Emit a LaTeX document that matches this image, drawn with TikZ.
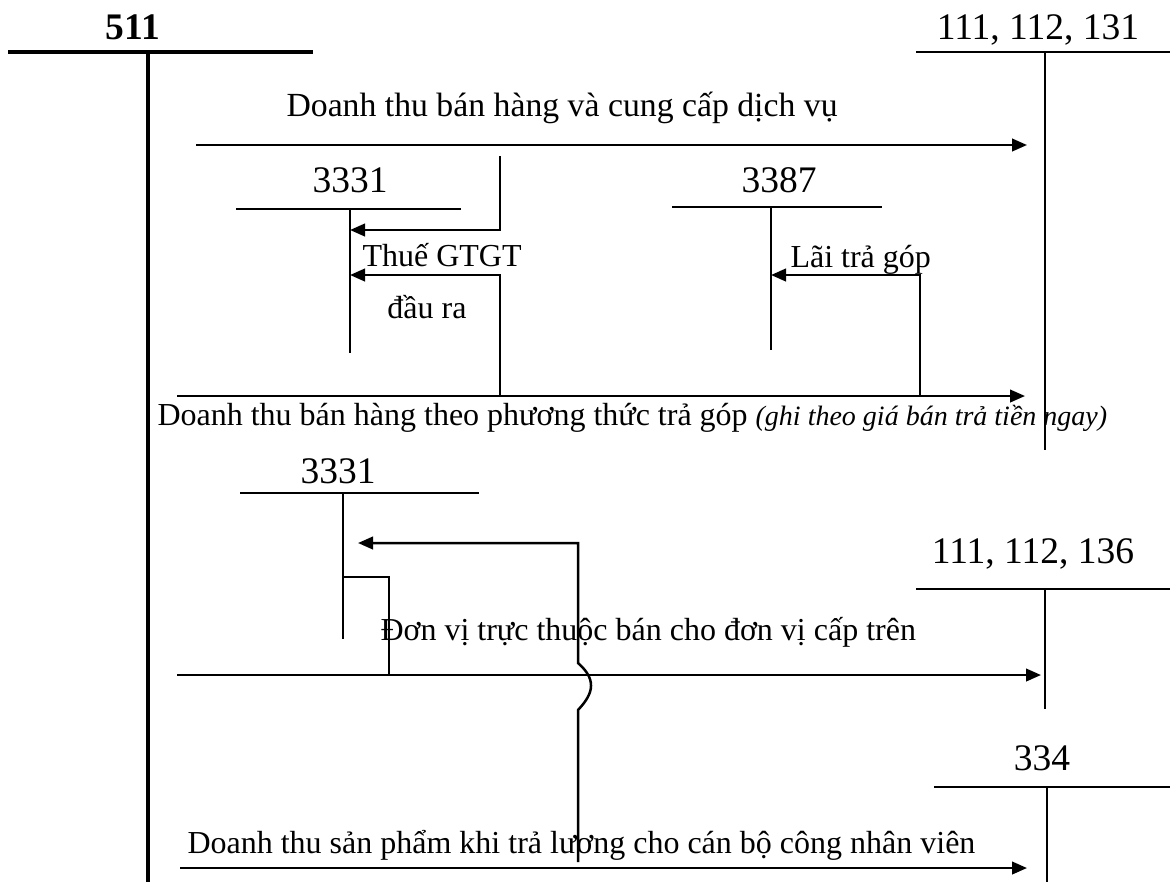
\documentclass[tikz,border=0pt]{standalone}
\usepackage{fontspec}
\setmainfont{Liberation Serif}
\usetikzlibrary{arrows.meta}
\begin{document}
\begin{tikzpicture}[
	x=0.4pt, y=-0.4pt,
	acct/.style={ inner sep=0pt, anchor=base, font=\fontsize{15}{17}\selectfont },
	note/.style={ inner sep=0pt, anchor=base west, font=\fontsize{12.8}{15}\selectfont },
	tacc/.style={ line width=0.7pt },
	mainacc/.style={ line width=1.7pt },
	flow/.style={ line width=1pt, -{Triangle[length=6pt,width=5pt]} },
	link/.style={ line width=0.8pt }
]
\useasboundingbox (0,0) rectangle (1170,882);

\node at (133,39) (t511) [acct,font=\bfseries\fontsize{15}{17}\selectfont] {511};
\coordinate (a511l) at (8,52);
\coordinate (a511r) at (313,52);
\coordinate (a511t) at (148,52);
\coordinate (a511b) at (148,882);
\draw[mainacc] (a511l) to (a511r);
\draw[mainacc] (a511t) to (a511b);

\node at (1038,39) (t131) [acct] {111, 112, 131};
\coordinate (a131l) at (916,52);
\coordinate (a131r) at (1170,52);
\coordinate (a131t) at (1045,52);
\coordinate (a131b) at (1045,450);
\draw[tacc] (a131l) to (a131r);
\draw[tacc] (a131t) to (a131b);

\node at (286,116) (dt1) [note,font=\fontsize{13.5}{16}\selectfont] {Doanh thu bán hàng và cung cấp dịch vụ};
\coordinate (f1s) at (196,145);
\coordinate (f1e) at (1027,145);
\draw[flow] (f1s) to (f1e);

\node at (350,192) (t3331a) [acct] {3331};
\coordinate (a3331al) at (236,209);
\coordinate (a3331ar) at (461,209);
\coordinate (a3331at) at (350,209);
\coordinate (a3331ab) at (350,353);
\draw[tacc] (a3331al) to (a3331ar);
\draw[tacc] (a3331at) to (a3331ab);

\coordinate (g1s) at (500,156);
\coordinate (g1e) at (350,230);
\draw[flow] (g1s) |- (g1e);
\coordinate (g2s) at (500,396);
\coordinate (g2e) at (350,275);
\draw[flow] (g2s) |- (g2e);
\node at (362,266) (thue) [note] {Thuế GTGT};
\node at (427,318) (daura) [note,anchor=base] {đầu ra};

\node at (779,192) (t3387) [acct] {3387};
\coordinate (a3387l) at (672,207);
\coordinate (a3387r) at (882,207);
\coordinate (a3387t) at (771,207);
\coordinate (a3387b) at (771,350);
\draw[tacc] (a3387l) to (a3387r);
\draw[tacc] (a3387t) to (a3387b);

\coordinate (l1s) at (920,396);
\coordinate (l1e) at (771,275);
\draw[flow] (l1s) |- (l1e);
\node at (790,267) (lai) [note] {Lãi trả góp};

\coordinate (f2s) at (177,396);
\coordinate (f2e) at (1025,396);
\draw[flow] (f2s) to (f2e);
\node at (157,425) (dt2) [note] {Doanh thu bán hàng theo phương thức trả góp \textit{\fontsize{11.2}{13}\selectfont(ghi theo giá bán trả tiền ngay)}};

\node at (338,483) (t3331b) [acct] {3331};
\coordinate (a3331bl) at (240,493);
\coordinate (a3331br) at (479,493);
\coordinate (a3331bt) at (343,493);
\coordinate (a3331bb) at (343,639);
\draw[tacc] (a3331bl) to (a3331br);
\draw[tacc] (a3331bt) to (a3331bb);

\coordinate (b1s) at (343,577);
\coordinate (b1e) at (389,675);
\draw[link] (b1s) -| (b1e);

\coordinate (j1s) at (578,862);
\coordinate (j1a) at (578,710);
\coordinate (j1b) at (578,663);
\coordinate (j1c) at (578,543);
\coordinate (j1e) at (358,543);
\draw[flow] (j1s) -- (j1a) .. controls (590,697) and (600,682) .. (j1b) -- (j1c) -- (j1e);

\coordinate (f3s) at (177,675);
\coordinate (f3e) at (1041,675);
\draw[flow] (f3s) to (f3e);
\node at (380,640) (dv) [note] {Đơn vị trực thuộc bán cho đơn vị cấp trên};

\node at (1033,563) (t136) [acct] {111, 112, 136};
\coordinate (a136l) at (916,589);
\coordinate (a136r) at (1170,589);
\coordinate (a136t) at (1045,589);
\coordinate (a136b) at (1045,709);
\draw[tacc] (a136l) to (a136r);
\draw[tacc] (a136t) to (a136b);

\node at (1042,770) (t334) [acct] {334};
\coordinate (a334l) at (934,787);
\coordinate (a334r) at (1170,787);
\coordinate (a334t) at (1047,787);
\coordinate (a334b) at (1047,882);
\draw[tacc] (a334l) to (a334r);
\draw[tacc] (a334t) to (a334b);

\coordinate (f4s) at (180,868);
\coordinate (f4e) at (1027,868);
\draw[flow] (f4s) to (f4e);
\node at (187,853) (dt4) [note] {Doanh thu sản phẩm khi trả lương cho cán bộ công nhân viên};

\end{tikzpicture}
\end{document}
